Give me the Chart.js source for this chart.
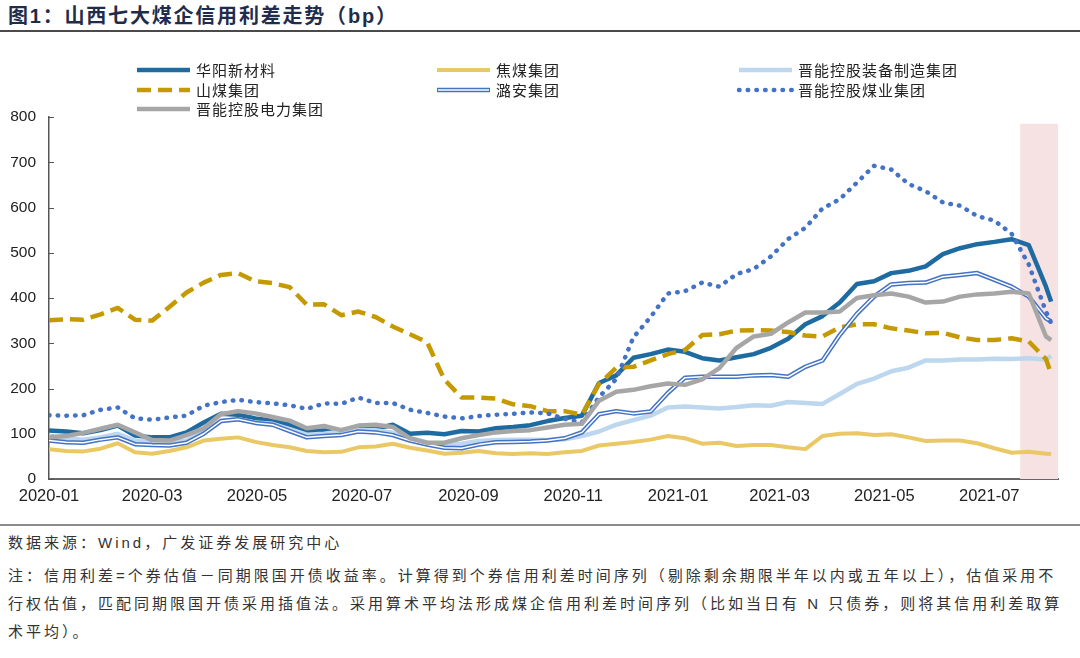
<!DOCTYPE html>
<html>
<head>
<meta charset="utf-8">
<script src="https://cdn.jsdelivr.net/npm/chart.js@4.4.1/dist/chart.umd.min.js"></script>
<style>
  body { margin: 0; width: 1080px; height: 658px; background: #fff; position: relative; overflow: hidden;
         font-family: 'Liberation Sans', 'Noto Sans CJK SC', sans-serif; }
  #title { position: absolute; left: 8px; top: 4px; line-height: 24px; font-size: 20px; font-weight: bold;
           color: #1f2d4a; letter-spacing: 1.8px; white-space: nowrap; }
  .rule { position: absolute; left: 0; width: 1080px; }
  #chartBox { position: absolute; left: 0; top: 40px; width: 1080px; height: 480px; }
  .note { position: absolute; left: 8px; font-size: 15px; line-height: 20px; color: #333;
          letter-spacing: 3px; white-space: nowrap; }
</style>
</head>
<body>
<div id="title">图1：山西七大煤企信用利差走势（bp）</div>
<div class="rule" style="top:30px;height:2px;background:#4a4a4a;"></div>
<div id="chartBox"><canvas id="spreadChart" width="1080" height="480"></canvas></div>
<div class="rule" style="top:524px;height:2px;background:#8c8c8c;"></div>
<div class="note" style="top:533px;">数据来源：Wind，广发证券发展研究中心</div>
<div class="note" style="top:566px;">注：信用利差=个券估值－同期限国开债收益率。计算得到个券信用利差时间序列（剔除剩余期限半年以内或五年以上），估值采用不</div>
<div class="note" style="top:594px;">行权估值，匹配同期限国开债采用插值法。采用算术平均法形成煤企信用利差时间序列（比如当日有 N 只债券，则将其信用利差取算</div>
<div class="note" style="top:622px;">术平均）。</div>

<script>
// days since 2020-01-01
const days = [0, 10, 20, 30, 40, 50, 60, 70, 80, 90, 100, 110, 120, 130, 140, 150, 160, 170, 180, 190,
  200, 210, 220, 230, 240, 250, 260, 270, 280, 290, 300, 310, 320, 330, 340, 350, 360, 370, 380, 390,
  400, 410, 420, 430, 440, 450, 460, 470, 480, 490, 500, 510, 520, 530, 540, 550, 560, 570, 580, 583];

// spreads in bp
const huayang = [107, 105, 101, 108, 118, 96, 92, 92, 103, 125, 144, 142, 134, 129, 120, 105, 107, 108, 112, 111,
  120, 100, 102, 99, 106, 105, 112, 115, 119, 128, 135, 140, 212, 229, 268, 276, 286, 281, 267, 262,
  269, 276, 290, 310, 342, 360, 390, 431, 437, 455, 460, 470, 497, 510, 519, 524, 530, 517, 425, 392];
const jiaomei = [66, 62, 61, 67, 79, 59, 56, 62, 70, 85, 89, 92, 82, 75, 70, 62, 59, 60, 70, 72,
  78, 69, 63, 56, 58, 62, 57, 55, 57, 55, 59, 62, 74, 78, 82, 87, 95, 90, 78, 80,
  73, 75, 75, 70, 66, 95, 100, 101, 97, 99, 92, 84, 85, 85, 79, 68, 58, 60, 56, 55];
const zhuangbei = [95, 90, 87, 92, 100, 85, 82, 80, 85, 105, 128, 132, 125, 122, 110, 98, 100, 105, 108, 108,
  102, 90, 80, 74, 78, 84, 86, 87, 87, 86, 88, 95, 105, 120, 130, 140, 158, 160, 158, 156,
  159, 163, 162, 170, 168, 166, 188, 210, 222, 238, 246, 262, 262, 264, 264, 266, 265, 267, 264, 272];
const shanmei = [351, 353, 352, 364, 378, 352, 350, 380, 412, 434, 451, 455, 437, 433, 424, 385, 386, 362, 370, 358,
  337, 320, 302, 220, 180, 180, 178, 165, 161, 150, 150, 142, 210, 246, 248, 262, 276, 285, 318, 320,
  328, 329, 328, 325, 317, 315, 335, 342, 342, 333, 328, 322, 323, 313, 307, 307, 311, 304, 265, 233];
const luan = [85, 81, 80, 87, 92, 77, 75, 74, 80, 100, 128, 132, 124, 120, 106, 92, 95, 97, 105, 103,
  97, 85, 76, 69, 68, 76, 81, 82, 83, 85, 90, 103, 143, 150, 145, 149, 190, 224, 226, 226,
  226, 229, 230, 226, 248, 262, 318, 365, 403, 430, 433, 434, 447, 451, 455, 440, 425, 403, 355, 348];
const meiye = [141, 140, 141, 153, 158, 134, 131, 136, 140, 162, 170, 175, 170, 167, 163, 155, 167, 166, 180, 168,
  168, 153, 146, 138, 134, 139, 142, 144, 147, 145, 133, 125, 181, 221, 313, 358, 410, 415, 434, 425,
  453, 464, 492, 530, 555, 598, 618, 655, 692, 684, 652, 636, 611, 604, 581, 571, 542, 474, 370, 345];
const dianli = [92, 95, 102, 111, 120, 103, 86, 85, 97, 112, 143, 150, 145, 137, 129, 112, 117, 108, 118, 120,
  115, 90, 80, 80, 90, 97, 103, 106, 108, 114, 120, 122, 173, 193, 197, 205, 211, 208, 220, 245,
  290, 315, 321, 346, 368, 368, 370, 400, 406, 410, 403, 390, 392, 403, 408, 410, 414, 410, 315, 307];

const tickDates = ['2020-01-01', '2020-03-01', '2020-05-01', '2020-07-01', '2020-09-01',
  '2020-11-01', '2021-01-01', '2021-03-01', '2021-05-01', '2021-07-01'];
const tickLabels = ['2020-01', '2020-03', '2020-05', '2020-07', '2020-09',
  '2020-11', '2021-01', '2021-03', '2021-05', '2021-07'];
const yTicks = [0, 100, 200, 300, 400, 500, 600, 700, 800];

// shaded window (days) and axis end
const shadeStart = 565;
const axisEnd = 587;
const shadeTop = 785;

function dayOf(s) {
  const p = s.split('-').map(Number);
  return Math.round((Date.UTC(p[0], p[1] - 1, p[2]) - Date.UTC(2020, 0, 1)) / 86400000);
}
const tickDays = tickDates.map(dayOf);

function pts(vals) {
  return days.map((d, i) => ({ x: d, y: vals[i] }));
}

const datasets = [
  { label: '华阳新材料', data: pts(huayang), borderColor: '#1e6ba2', borderWidth: 4.5, order: 70 },
  { label: '焦煤集团', data: pts(jiaomei), borderColor: '#eac866', borderWidth: 4, order: 60 },
  { label: '晋能控股装备制造集团', data: pts(zhuangbei), borderColor: '#bdd7ee', borderWidth: 4.5, order: 50 },
  { label: '山煤集团', data: pts(shanmei), borderColor: '#c49a00', borderWidth: 4.5, borderDash: [14, 7], order: 40 },
  { label: '潞安集团', data: pts(luan), borderColor: '#4472c4', borderWidth: 4.5, order: 31 },
  { label: '潞安集团-inner', data: pts(luan), borderColor: '#ffffff', borderWidth: 1.5, order: 30 },
  { label: '晋能控股煤业集团', data: pts(meiye), borderColor: '#4472c4', borderWidth: 4.5, borderDash: [0.5, 8.2], borderCapStyle: 'round', order: 20 },
  { label: '晋能控股电力集团', data: pts(dianli), borderColor: '#a6a6a6', borderWidth: 4.5, order: 10 }
];

// legend layout: [dataset index, column x, row y]
const legendItems = [
  [0, 137, 30], [1, 437, 30], [2, 739, 30],
  [3, 137, 50], [4, 437, 50], [6, 739, 50],
  [7, 137, 69]
];

const extras = {
  id: 'extras',
  beforeDatasetsDraw(chart) {
    const { ctx, chartArea, scales } = chart;
    const x1 = scales.x.getPixelForValue(shadeStart);
    const x2 = scales.x.getPixelForValue(axisEnd);
    const y1 = scales.y.getPixelForValue(shadeTop);
    ctx.save();
    ctx.fillStyle = '#f6e2e2';
    ctx.fillRect(x1, y1, x2 - x1, chartArea.bottom - y1);
    // small inward ticks on the value axis
    ctx.strokeStyle = '#555';
    ctx.lineWidth = 1;
    yTicks.forEach(v => {
      const y = Math.round(scales.y.getPixelForValue(v)) + 0.5;
      ctx.beginPath();
      ctx.moveTo(chartArea.left, y);
      ctx.lineTo(chartArea.left + 5, y);
      ctx.stroke();
    });
    ctx.restore();
  },
  afterDraw(chart) {
    const ctx = chart.ctx;
    ctx.save();
    legendItems.forEach(([i, x, y]) => {
      const ds = datasets[i];
      ctx.beginPath();
      ctx.strokeStyle = ds.borderColor;
      ctx.lineWidth = ds.borderWidth;
      ctx.lineCap = ds.borderCapStyle || 'butt';
      ctx.setLineDash(ds.borderDash || []);
      ctx.moveTo(x, y);
      ctx.lineTo(x + 53, y);
      ctx.stroke();
      if (i === 4) {
        ctx.beginPath();
        ctx.strokeStyle = '#ffffff';
        ctx.lineWidth = 1.5;
        ctx.moveTo(x + 1, y);
        ctx.lineTo(x + 52, y);
        ctx.stroke();
      }
      ctx.setLineDash([]);
      ctx.fillStyle = '#222';
      ctx.font = "15px 'Noto Sans CJK SC'";
      ctx.textBaseline = 'middle';
      ctx.letterSpacing = '1px';
      ctx.fillText(ds.label, x + 59, y);
    });
    ctx.restore();
  }
};

const ctx = document.getElementById('spreadChart').getContext('2d');
const spreadChart = new Chart(ctx, {
  type: 'line',
  data: { datasets: datasets },
  options: {
    responsive: false,
    animation: false,
    layout: { padding: { top: 77, right: 22, left: 0, bottom: 0 } },
    elements: { point: { radius: 0 }, line: { tension: 0, borderJoinStyle: 'round' } },
    plugins: { legend: { display: false }, tooltip: { enabled: false } },
    scales: {
      x: {
        type: 'linear',
        min: 0,
        max: axisEnd,
        afterBuildTicks: s => { s.ticks = tickDays.map(v => ({ value: v })); },
        afterFit: s => { s.height = 41; },
        grid: { display: false, drawTicks: false },
        border: { display: true, color: '#666', width: 2 },
        ticks: {
          autoSkip: false,
          maxRotation: 0,
          padding: 8,
          color: '#222',
          font: { family: "'Liberation Sans', Arial", size: 16.5 },
          callback: v => {
            const i = tickDays.indexOf(v);
            return i >= 0 ? tickLabels[i] : '';
          }
        }
      },
      y: {
        min: 0,
        max: 800,
        afterFit: s => { s.width = 49; },
        grid: { display: false, drawTicks: false },
        border: { display: true, color: '#555', width: 1.5 },
        ticks: {
          stepSize: 100,
          padding: 13,
          color: '#222',
          font: { family: "'Liberation Sans', Arial", size: 15.5 }
        }
      }
    }
  },
  plugins: [extras]
});
</script>
</body>
</html>
